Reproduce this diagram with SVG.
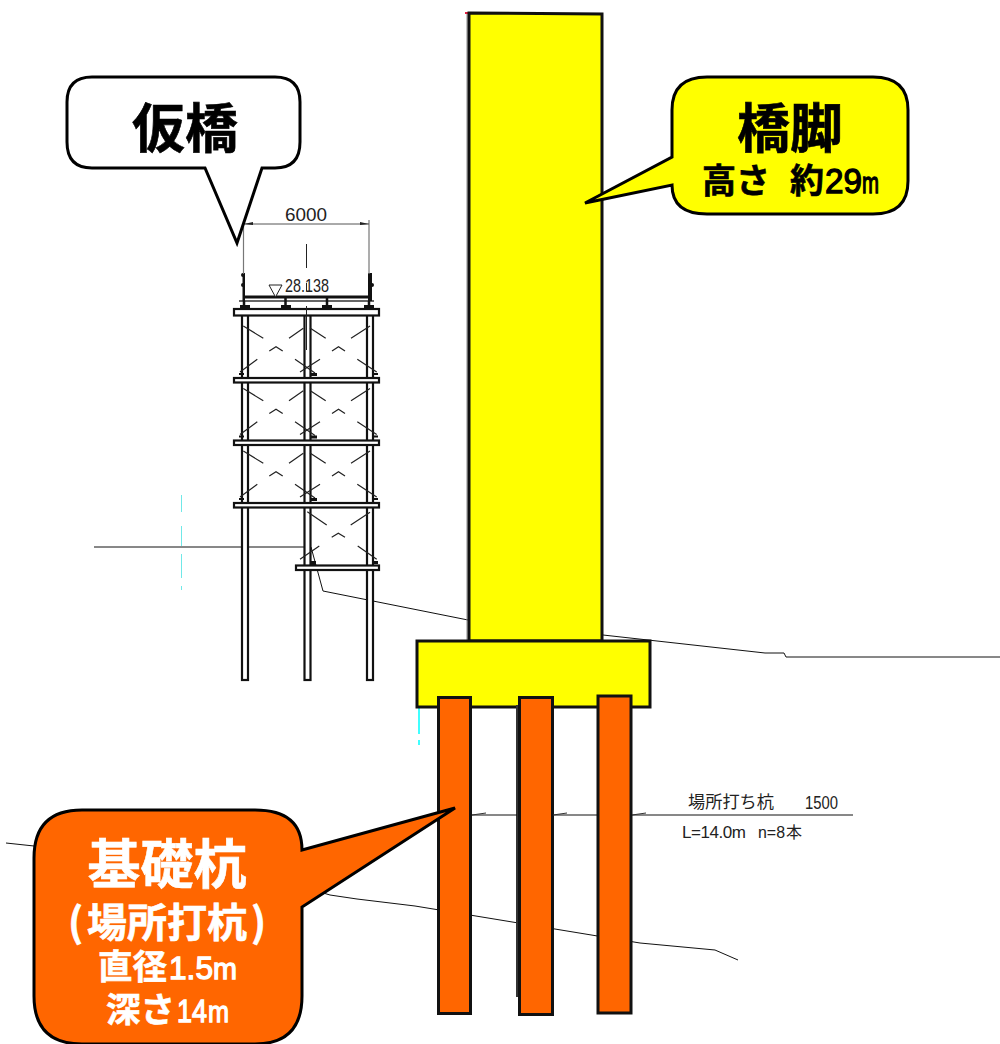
<svg xmlns="http://www.w3.org/2000/svg" xmlns:xlink="http://www.w3.org/1999/xlink" width="1000" height="1044" viewBox="0 0 1000 1044">
<style>
.cjk{font-family:"Noto Sans CJK JP","Liberation Sans",sans-serif}
.lat{font-family:"Liberation Sans",sans-serif}
.b{font-weight:700}
.thin{fill:none;stroke:#111;stroke-width:1}
.brace{fill:none;stroke:#222;stroke-width:1.200}
.col{fill:#fff;stroke:#111;stroke-width:2.200}
.beam{fill:#fff;stroke:#111;stroke-width:2.200}
.pile{fill:#ff6600;stroke:#111;stroke-width:3}
.yel{fill:#ffff00;stroke:#111;stroke-width:3}
.call{stroke:#000;stroke-width:3;stroke-linejoin:miter}
.w{fill:#fff;stroke:#fff;stroke-width:.6}
.k{fill:#000;stroke:#000;stroke-width:.6}
.h{stroke-width:1.300}
.note{fill:#222}
</style>
<defs>
<g id="bay">
<path class="brace" d="M243.300 326L263.300 338.300M289 338.300L303.300 328.300M269.300 351L276 346.700L282.700 351M257.300 359.300L240 372M295 359.300L315 373"/>
<path class="brace" d="M310 328L325.700 338.300M351 338.300L370 326M332 351L338.500 346.700L345 351M320 359.300L300 372M357.300 359.300L376.700 372"/>
<path d="M239 373h5v2h-5zM311 373h6v3h-6zM374 373h4v2h-4z" fill="#111"/>
</g>
</defs>

<g id="ground" class="thin">
<path d="M94 547H311L323 591L468 620"/>
<path d="M603 635L765 653H784L786 657H1000"/>
<path d="M6 843L34 846"/>
<path d="M300 886L330 895L357 899L415 906L640 943L715 950L738 960"/>
</g>
<g id="centerlines" fill="none">
<path d="M181.500 495V600" stroke="#70e8e8" stroke-width="1" stroke-dasharray="17 14 20 8 24 8 4 10"/>
<path d="M419 708V745" stroke="#40ffff" stroke-width="2" stroke-dasharray="26 6 6 6"/>
</g>

<g id="trestle">
<rect class="col" x="242" y="315" width="6" height="365"/>
<rect class="col" x="304.500" y="315" width="6" height="365"/>
<rect class="col" x="367" y="315" width="6" height="365"/>
<use xlink:href="#bay" href="#bay"/>
<use xlink:href="#bay" href="#bay" y="62.500"/>
<use xlink:href="#bay" href="#bay" y="125"/>
<rect class="beam" x="234" y="309" width="145" height="6.500"/>
<rect class="beam" x="234" y="378" width="145" height="4.500"/>
<rect class="beam" x="234" y="440.500" width="145" height="4.500"/>
<rect class="beam" x="234" y="503" width="145" height="4.500"/>
<rect class="beam" x="296" y="565.500" width="83" height="4.500"/>
<path class="brace" d="M307.300 511.700L326.700 525M350.700 525L370 512.300M331.700 537.300L338.300 533.300L345 537.300M319.300 546L300 559.300M357.700 546L376.700 559.300"/>
<path d="M311 561h5v4h-5zM374 561h4v3h-4z" fill="#111"/>
<g id="deck">
<path d="M245 297H369" stroke="#111" stroke-width="3"/>
<path d="M239 301H374" stroke="#333" stroke-width="1.500"/>
<path d="M242.500 273h2.500v28h-2.500zM368 273h4v28h-4z" fill="#111"/>
<circle cx="243" cy="275" r="2" fill="#111"/><circle cx="243" cy="285" r="2" fill="#111"/>
<circle cx="372" cy="285" r="2" fill="#111"/>
<path d="M240 305h10v4h-10zM281 305h10v4h-10zM322 305h10v4h-10zM364 305h10v4h-10z" fill="#111"/>
<path d="M285.500 298v7M327 298v7M244 301v4M369 301v4" stroke="#111" stroke-width="2.500"/>
</g>
<g id="dim">
<path d="M243.500 220V274M369 220V274" stroke="#777" stroke-width="1.200"/>
<path d="M244 224H369" stroke="#555" stroke-width="1"/>
<path d="M244 224l9-2v3zM369 224l-9-2v3z" fill="#222"/>
<path d="M306.500 244V268M306.500 283V291M306.500 306V350" stroke="#222" stroke-width="1"/>
<text class="lat note" x="285" y="221" font-size="19" textLength="42" lengthAdjust="spacingAndGlyphs">6000</text>
<path d="M269 285H282L275.500 297Z" fill="#fff" stroke="#222" stroke-width="1"/>
<text class="lat note" x="285" y="292" font-size="19" textLength="44" lengthAdjust="spacingAndGlyphs">28.138</text>
</g>
</g>

<g id="pier">
<path d="M467 640V12" stroke="#888" stroke-width="1"/>
<path d="M465 12h3v2h-3z" fill="#e02040"/>
<path class="yel" d="M469 13L602 14V641H469Z"/>
</g>
<g id="footing">
<rect class="yel" x="417" y="641" width="233" height="66"/>
</g>
<g id="piles">
<path d="M517 705V997" stroke="#333" stroke-width="2"/>
<rect class="pile" id="pile1" x="438.500" y="697.500" width="32" height="316"/>
<rect class="pile" id="pile2" x="519.500" y="697.500" width="33" height="317"/>
<rect class="pile" id="pile3" x="598" y="696" width="33" height="317"/>
</g>
<g id="pile-label">
<path d="M472 815H517M553 815H597M632 815H853" stroke="#111" stroke-width="1"/>
<path d="M472 815l14-2M553 815l14-2M632 815l14-2" stroke="#333" stroke-width="1"/>
<text class="cjk note" x="688" y="808" font-size="17" textLength="86" lengthAdjust="spacingAndGlyphs">場所打ち杭</text>
<text class="lat note" x="805" y="809" font-size="19" textLength="33" lengthAdjust="spacingAndGlyphs">1500</text>
<text class="lat note" x="682" y="838" font-size="17" textLength="64" lengthAdjust="spacing">L=14.0m</text>
<text class="lat note" x="758" y="838" font-size="17" textLength="27" lengthAdjust="spacingAndGlyphs">n=8</text>
<text class="cjk note" x="786" y="838" font-size="16">本</text>
</g>

<g id="callout-kari">
<path class="call" fill="#fff" d="M92 77H275Q300 77 300 102V142Q300 168 275 168H262L237 243L205 168H92Q67 168 67 142V102Q67 77 92 77Z"/>
<text class="cjk b k" x="185" y="148" font-size="53" text-anchor="middle">仮橋</text>
</g>
<g id="callout-kyakyaku">
<path class="call" fill="#ffff00" d="M707 77H873Q908 77 908 110V181Q908 214 873 214H707Q672 214 672 185L585 203L672 157V110Q672 77 707 77Z"/>
<text class="cjk b k" x="790" y="148" font-size="53" text-anchor="middle">橋脚</text>
<text class="cjk b k" x="702" y="193" font-size="34">高さ</text>
<text class="cjk b k" x="790" y="193" font-size="34">約</text>
<text class="lat k h" x="825" y="193" font-size="35" textLength="37" lengthAdjust="spacingAndGlyphs">29</text>
<text class="lat k h" x="862" y="193" font-size="30" textLength="17" lengthAdjust="spacingAndGlyphs">m</text>
</g>
<g id="callout-kiso">
<path class="call" fill="#ff6600" d="M82 810H255Q302 810 302 850L455 808L302 907V996Q302 1044 255 1044H82Q34 1044 34 996V858Q34 810 82 810Z"/>
<text class="cjk b w" x="167" y="884" font-size="53" text-anchor="middle">基礎杭</text>
<text class="cjk b w" x="68" y="937" font-size="40">(</text>
<text class="cjk b w" x="87" y="937" font-size="40">場所打杭</text>
<text class="cjk b w" x="251" y="937" font-size="40">)</text>
<text class="cjk b w" x="98" y="979" font-size="34.500">直径</text>
<text class="lat w h" x="169" y="979" font-size="32" textLength="44" lengthAdjust="spacingAndGlyphs">1.5</text>
<text class="lat w h" x="213" y="979" font-size="30" textLength="24" lengthAdjust="spacingAndGlyphs">m</text>
<text class="cjk b w" x="106" y="1022" font-size="34.500">深さ</text>
<text class="lat w h" x="177" y="1022" font-size="32" textLength="30" lengthAdjust="spacingAndGlyphs">14</text>
<text class="lat w h" x="208" y="1022" font-size="30" textLength="21" lengthAdjust="spacingAndGlyphs">m</text>
</g>
</svg>
